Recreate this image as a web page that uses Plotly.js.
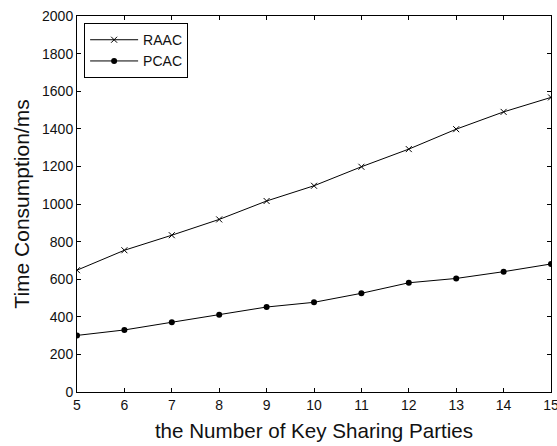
<!DOCTYPE html>
<html>
<head>
<meta charset="utf-8">
<script src="https://cdn.plot.ly/plotly-3.0.1.min.js"></script>
<style>html,body{margin:0;padding:0;background:#fff;}#chart{width:557px;height:446px;}</style>
</head>
<body>
<div id="chart"></div>
<script>
const parties = [5, 6, 7, 8, 9, 10, 11, 12, 13, 14, 15];
const raac = [648, 754, 834, 918, 1016, 1097, 1198, 1292, 1398, 1490, 1567];
const pcac = [301, 330, 371, 411, 452, 477, 525, 581, 604, 640, 681];
const yTicks = [0, 200, 400, 600, 800, 1000, 1200, 1400, 1600, 1800, 2000];

const FONT = 'Liberation Sans, Arial, sans-serif';

const traces = [
  {x: parties, y: raac, name: 'RAAC', type: 'scatter', mode: 'lines+markers',
   line: {color: '#000', width: 1},
   marker: {symbol: 'x-thin-open', size: 6, color: '#000', line: {color: '#000', width: 1}}},
  {x: parties, y: pcac, name: 'PCAC', type: 'scatter', mode: 'lines+markers',
   line: {color: '#000', width: 1},
   marker: {symbol: 'circle', size: 6, color: '#000'}}
];

const axisCommon = {
  showgrid: false, zeroline: false, showline: true, linecolor: '#000', linewidth: 1,
  mirror: 'ticks', ticks: 'inside', ticklen: 4, tickcolor: '#000',
  ticklabeloverflow: 'allow', automargin: false,
  tickfont: {family: FONT, size: 14, color: '#111'}
};

const layout = {
  width: 557, height: 446,
  margin: {l: 77, r: 6, t: 16, b: 54},
  paper_bgcolor: '#fff', plot_bgcolor: '#fff',
  showlegend: true,
  legend: {x: 0.015, y: 0.981, xanchor: 'left', yanchor: 'top',
    bordercolor: '#000', borderwidth: 1, bgcolor: '#fff',
    font: {family: FONT, size: 14, color: '#111'},
    itemwidth: 48, tracegroupgap: 0},
  xaxis: Object.assign({}, axisCommon, {
    range: [5, 15], tickvals: parties, ticktext: parties.map(String),
    title: {text: 'the Number of Key Sharing Parties', standoff: 11,
      font: {family: FONT, size: 20.6, color: '#111'}}
  }),
  yaxis: Object.assign({}, axisCommon, {
    range: [0, 2000], tickvals: yTicks, ticktext: yTicks.map(String),
    title: {text: 'Time Consumption/ms', standoff: 6,
      font: {family: FONT, size: 21, color: '#111'}}
  })
};

Plotly.newPlot('chart', traces, layout, {displayModeBar: false, staticPlot: true});
</script>
</body>
</html>
